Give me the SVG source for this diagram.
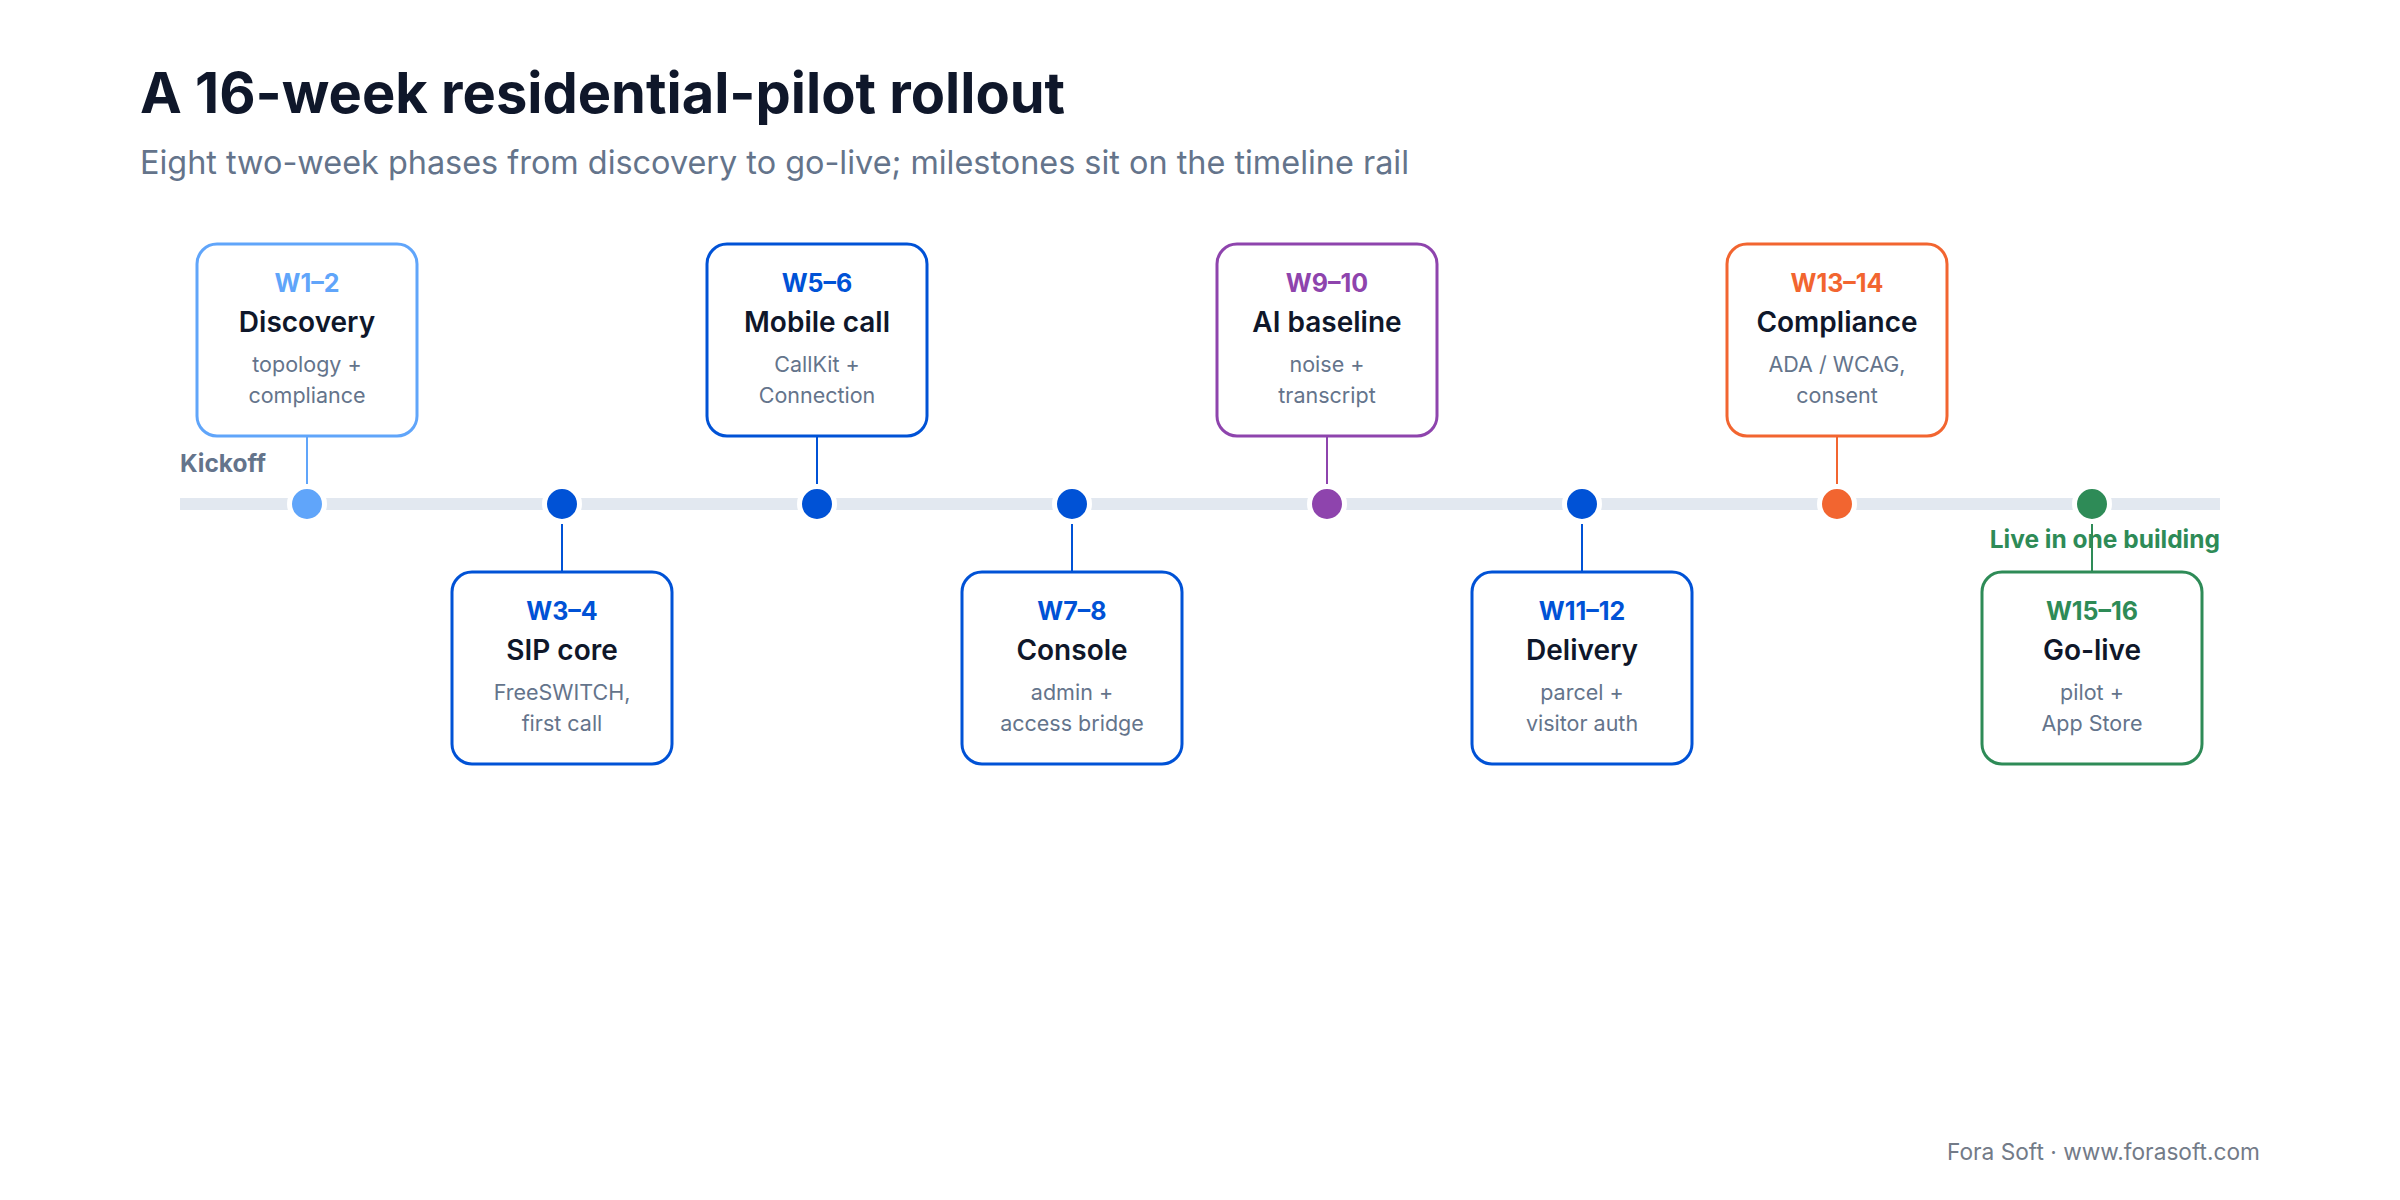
<svg xmlns="http://www.w3.org/2000/svg" width="2400" height="1200" viewBox="0 0 2400 1200">
  <style>
    text { font-family: Inter, "Liberation Sans", sans-serif; }
    .title { font-size: 56px; font-weight: 700; fill: #0f172a; }
    .subtitle { font-size: 32.4px; font-weight: 400; fill: #64748b; }
    .box { fill: #ffffff; stroke-width: 3; }
    .wk { font-size: 25px; font-weight: 700; text-anchor: middle; }
    .name { font-size: 28px; font-weight: 600; fill: #0f172a; text-anchor: middle; }
    .detail { font-size: 21.5px; font-weight: 400; fill: #64748b; text-anchor: middle; }
    .milestone { font-size: 24.5px; font-weight: 700; }
    .stem { stroke-width: 2; fill: none; }
    .dot { stroke: #ffffff; stroke-width: 5; }
    .footer { font-size: 22.7px; fill: #737b88; text-anchor: end; }
    .c-sky { stroke: #60a5fa; fill: #60a5fa; }
    .c-blue { stroke: #0052d6; fill: #0052d6; }
    .c-purple { stroke: #8e44ad; fill: #8e44ad; }
    .c-orange { stroke: #f26530; fill: #f26530; }
    .c-green { stroke: #2e8b57; fill: #2e8b57; }
  </style>

  <rect width="2400" height="1200" fill="#ffffff"/>

  <text class="title" x="140" y="113">A 16-week residential-pilot rollout</text>
  <text class="subtitle" x="140" y="174">Eight two-week phases from discovery to go-live; milestones sit on the timeline rail</text>

  <!-- timeline rail -->
  <rect x="180" y="498" width="2040" height="12" fill="#e2e8f0"/>

  <!-- milestone labels at the rail ends -->
  <text class="milestone" x="180" y="472" fill="#64748b">Kickoff</text>
  <text class="milestone" x="2220" y="548" fill="#2e8b57" text-anchor="end">Live in one building</text>

  <!-- stems from boxes to rail -->
  <g id="connectors">
    <line class="stem c-sky" x1="307" y1="436" x2="307" y2="504"/>
    <line class="stem c-blue" x1="562" y1="504" x2="562" y2="572"/>
    <line class="stem c-blue" x1="817" y1="436" x2="817" y2="504"/>
    <line class="stem c-blue" x1="1072" y1="504" x2="1072" y2="572"/>
    <line class="stem c-purple" x1="1327" y1="436" x2="1327" y2="504"/>
    <line class="stem c-blue" x1="1582" y1="504" x2="1582" y2="572"/>
    <line class="stem c-orange" x1="1837" y1="436" x2="1837" y2="504"/>
    <line class="stem c-green" x1="2092" y1="504" x2="2092" y2="572"/>
  </g>

  <!-- rail dots -->
  <g id="dots">
    <circle class="dot" cx="307" cy="504" r="17.5" fill="#60a5fa"/>
    <circle class="dot" cx="562" cy="504" r="17.5" fill="#0052d6"/>
    <circle class="dot" cx="817" cy="504" r="17.5" fill="#0052d6"/>
    <circle class="dot" cx="1072" cy="504" r="17.5" fill="#0052d6"/>
    <circle class="dot" cx="1327" cy="504" r="17.5" fill="#8e44ad"/>
    <circle class="dot" cx="1582" cy="504" r="17.5" fill="#0052d6"/>
    <circle class="dot" cx="1837" cy="504" r="17.5" fill="#f26530"/>
    <circle class="dot" cx="2092" cy="504" r="17.5" fill="#2e8b57"/>
  </g>

  <!-- phase cards -->
  <g id="phase-w1-2">
    <rect class="box" x="197" y="244" width="220" height="192" rx="20" stroke="#60a5fa"/>
    <text class="wk" x="307" y="292" fill="#60a5fa">W1–2</text>
    <text class="name" x="307" y="332">Discovery</text>
    <text class="detail" x="307" y="372">topology +</text>
    <text class="detail" x="307" y="403">compliance</text>
  </g>

  <g id="phase-w3-4">
    <rect class="box" x="452" y="572" width="220" height="192" rx="20" stroke="#0052d6"/>
    <text class="wk" x="562" y="620" fill="#0052d6">W3–4</text>
    <text class="name" x="562" y="660">SIP core</text>
    <text class="detail" x="562" y="700">FreeSWITCH,</text>
    <text class="detail" x="562" y="731">first call</text>
  </g>

  <g id="phase-w5-6">
    <rect class="box" x="707" y="244" width="220" height="192" rx="20" stroke="#0052d6"/>
    <text class="wk" x="817" y="292" fill="#0052d6">W5–6</text>
    <text class="name" x="817" y="332">Mobile call</text>
    <text class="detail" x="817" y="372">CallKit +</text>
    <text class="detail" x="817" y="403">Connection</text>
  </g>

  <g id="phase-w7-8">
    <rect class="box" x="962" y="572" width="220" height="192" rx="20" stroke="#0052d6"/>
    <text class="wk" x="1072" y="620" fill="#0052d6">W7–8</text>
    <text class="name" x="1072" y="660">Console</text>
    <text class="detail" x="1072" y="700">admin +</text>
    <text class="detail" x="1072" y="731">access bridge</text>
  </g>

  <g id="phase-w9-10">
    <rect class="box" x="1217" y="244" width="220" height="192" rx="20" stroke="#8e44ad"/>
    <text class="wk" x="1327" y="292" fill="#8e44ad">W9–10</text>
    <text class="name" x="1327" y="332">AI baseline</text>
    <text class="detail" x="1327" y="372">noise +</text>
    <text class="detail" x="1327" y="403">transcript</text>
  </g>

  <g id="phase-w11-12">
    <rect class="box" x="1472" y="572" width="220" height="192" rx="20" stroke="#0052d6"/>
    <text class="wk" x="1582" y="620" fill="#0052d6">W11–12</text>
    <text class="name" x="1582" y="660">Delivery</text>
    <text class="detail" x="1582" y="700">parcel +</text>
    <text class="detail" x="1582" y="731">visitor auth</text>
  </g>

  <g id="phase-w13-14">
    <rect class="box" x="1727" y="244" width="220" height="192" rx="20" stroke="#f26530"/>
    <text class="wk" x="1837" y="292" fill="#f26530">W13–14</text>
    <text class="name" x="1837" y="332">Compliance</text>
    <text class="detail" x="1837" y="372">ADA / WCAG,</text>
    <text class="detail" x="1837" y="403">consent</text>
  </g>

  <g id="phase-w15-16">
    <rect class="box" x="1982" y="572" width="220" height="192" rx="20" stroke="#2e8b57"/>
    <text class="wk" x="2092" y="620" fill="#2e8b57">W15–16</text>
    <text class="name" x="2092" y="660">Go-live</text>
    <text class="detail" x="2092" y="700">pilot +</text>
    <text class="detail" x="2092" y="731">App Store</text>
  </g>

  <text class="footer" x="2260" y="1160">Fora Soft · www.forasoft.com</text>
</svg>
